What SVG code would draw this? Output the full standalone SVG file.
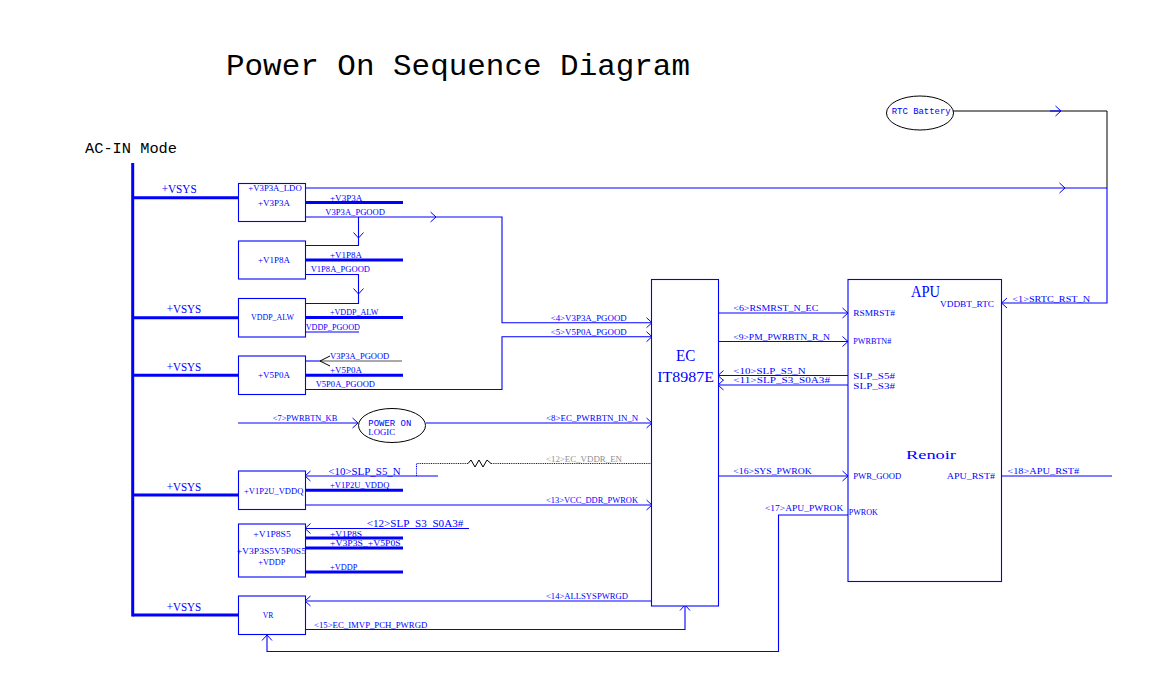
<svg xmlns="http://www.w3.org/2000/svg" width="1150" height="692" viewBox="0 0 1150 692">
<style>
text{font-family:"Liberation Serif","DejaVu Serif",serif;fill:#0000ff;font-size:8.500px}
.t{font-family:"Liberation Mono","DejaVu Sans Mono",monospace;fill:#000;font-size:29px}
.h{font-family:"Liberation Mono","DejaVu Sans Mono",monospace;fill:#000;font-size:14.500px}
.c{font-family:"Liberation Mono","DejaVu Sans Mono",monospace}
.v{font-size:12px}
.m{font-size:10px}
.b{font-size:16px}
.i{font-size:14.500px}
.g{fill:#909090}
.n{fill:#fff;stroke:#0000ff;stroke-width:1.100}
.e{fill:#fff;stroke:#000;stroke-width:1}
.l{fill:none;stroke:#0000ff;stroke-width:1.100}
.a{marker-end:url(#arrow)}
.k{fill:none;stroke:#000;stroke-width:1}
.w{fill:none;stroke:#0000ff;stroke-width:3}
.d{stroke-dasharray:1 .8}
</style>
<defs>
<marker id="arrow" markerUnits="userSpaceOnUse" markerWidth="14" markerHeight="14" refX="10" refY="7" orient="auto" viewBox="0 0 14 14"><path d="M4.500 2L10 7L4.500 12" fill="none" stroke="#0000ff" stroke-width="1"/></marker>
<marker id="arrowk" markerUnits="userSpaceOnUse" markerWidth="14" markerHeight="14" refX="11" refY="7" orient="auto" viewBox="0 0 14 14"><path d="M1 2L11 7L1 12" fill="none" stroke="#000" stroke-width="1"/></marker>
</defs>
<rect width="1150" height="692" fill="#fff"/>
<text class="t" x="226" y="74.500" textLength="464" lengthAdjust="spacingAndGlyphs">Power On Sequence Diagram</text>
<text class="h" x="85" y="152.700" textLength="92" lengthAdjust="spacingAndGlyphs">AC-IN Mode</text>

<g id="connectors">
<path class="w" d="M132.700 163V616.500"/>
<path class="w" d="M132.700 197.700H238M132.700 317.700H238M132.700 375.300H238M132.700 495H238M132.700 615H238"/>
<path class="w" d="M305 202.500H403M305 260H403M305 317.500H403M305 375.300H403M305 490.300H403M305 538H403M305 548H403M305 572H403"/>
<path class="l a" d="M306 188H1065"/>
<path class="l" d="M1065 188H1107"/>
<path class="l a" d="M306 217H436"/>
<path class="l a" d="M436 217H502V322.700H652"/>
<path class="l a" d="M358.500 217V238"/>
<path class="l" d="M358.500 238V245.500H306"/>
<path class="l a" d="M306 274.500H358.500V294"/>
<path class="l" d="M358.500 294V303.500H306"/>
<path class="l" d="M306 332H359"/>
<path class="l" d="M306 361H320"/>
<path d="M402 361H320" fill="none" stroke="#555" stroke-width="1" marker-end="url(#arrowk)"/>
<path class="l a" d="M306 389.500H502V336.700H652"/>
<path class="l a" d="M238 423H358"/>
<path class="l a" d="M426 423H652"/>
<path class="l a" d="M438 476H305"/>
<path class="l d" d="M416.500 476V463.500H468M491 463.500H652"/>
<path class="k" d="M468 463.500L471 460L475 467L479 460L483 467L487 460L491 463.500"/>
<path class="l a" d="M305 505H652"/>
<path class="l a" d="M469 528.500H305"/>
<path class="l a" d="M652 601H305"/>
<path class="l a" d="M305 629.500H685V605"/>
<path class="l a" d="M848 515H778.500V651.500H267V635"/>
<path class="l a" d="M718 313H848"/>
<path class="l a" d="M718 341.500H848"/>
<path class="l a" d="M848 375.500H718"/>
<path class="l a" d="M848 385H718"/>
<path class="l a" d="M718 476H848"/>
<path class="l" d="M1001.500 476H1112"/>
<path class="k" d="M953 111H1107V188"/>
<path class="l a" d="M1050 111H1061"/>
<path class="l a" d="M1107 188V303H1001.500"/>
<text x="330" y="200.700" textLength="32.300" lengthAdjust="spacingAndGlyphs">+V3P3A</text>
<text x="325.300" y="215" textLength="59.700" lengthAdjust="spacingAndGlyphs">V3P3A_PGOOD</text>
<text x="330" y="258" textLength="32" lengthAdjust="spacingAndGlyphs">+V1P8A</text>
<text x="310.700" y="272.300" textLength="59.300" lengthAdjust="spacingAndGlyphs">V1P8A_PGOOD</text>
<text x="330" y="315.300" textLength="48.300" lengthAdjust="spacingAndGlyphs">+VDDP_ALW</text>
<text x="305.700" y="330" textLength="54.300" lengthAdjust="spacingAndGlyphs">VDDP_PGOOD</text>
<text x="330" y="359" textLength="59.300" lengthAdjust="spacingAndGlyphs">V3P3A_PGOOD</text>
<text x="330" y="373.300" textLength="32" lengthAdjust="spacingAndGlyphs">+V5P0A</text>
<text x="315.700" y="387.300" textLength="59.300" lengthAdjust="spacingAndGlyphs">V5P0A_PGOOD</text>
<text x="272.700" y="421.300" textLength="64.600" lengthAdjust="spacingAndGlyphs">&lt;7&gt;PWRBTN_KB</text>
<text class="m" x="328.300" y="474.700" textLength="72.400" lengthAdjust="spacingAndGlyphs">&lt;10&gt;SLP_S5_N</text>
<text x="330" y="488.300" textLength="59.300" lengthAdjust="spacingAndGlyphs">+V1P2U_VDDQ</text>
<text class="m" x="366.700" y="527.300" textLength="96.600" lengthAdjust="spacingAndGlyphs">&lt;12&gt;SLP_S3_S0A3#</text>
<text x="330" y="536.700" textLength="32" lengthAdjust="spacingAndGlyphs">+V1P8S</text>
<text x="330" y="546" textLength="70.700" lengthAdjust="spacingAndGlyphs">+V3P3S_+V5P0S</text>
<text x="330" y="570" textLength="27.300" lengthAdjust="spacingAndGlyphs">+VDDP</text>
<text x="314" y="627.700" textLength="113.300" lengthAdjust="spacingAndGlyphs">&lt;15&gt;EC_IMVP_PCH_PWRGD</text>
<text x="550.700" y="320.700" textLength="76" lengthAdjust="spacingAndGlyphs">&lt;4&gt;V3P3A_PGOOD</text>
<text x="550.700" y="335.300" textLength="76" lengthAdjust="spacingAndGlyphs">&lt;5&gt;V5P0A_PGOOD</text>
<text x="546" y="421.300" textLength="92.300" lengthAdjust="spacingAndGlyphs">&lt;8&gt;EC_PWRBTN_IN_N</text>
<text class="g" x="546" y="462" textLength="76" lengthAdjust="spacingAndGlyphs">&lt;12&gt;EC_VDDR_EN</text>
<text x="546" y="503" textLength="92" lengthAdjust="spacingAndGlyphs">&lt;13&gt;VCC_DDR_PWROK</text>
<text x="546" y="599" textLength="82" lengthAdjust="spacingAndGlyphs">&lt;14&gt;ALLSYSPWRGD</text>
<text x="733.300" y="311.300" textLength="85" lengthAdjust="spacingAndGlyphs">&lt;6&gt;RSMRST_N_EC</text>
<text x="733.300" y="340" textLength="96.700" lengthAdjust="spacingAndGlyphs">&lt;9&gt;PM_PWRBTN_R_N</text>
<text x="733.300" y="373.700" textLength="72.400" lengthAdjust="spacingAndGlyphs">&lt;10&gt;SLP_S5_N</text>
<text x="733.300" y="383.300" textLength="96.700" lengthAdjust="spacingAndGlyphs">&lt;11&gt;SLP_S3_S0A3#</text>
<text x="733.300" y="474.300" textLength="78.400" lengthAdjust="spacingAndGlyphs">&lt;16&gt;SYS_PWROK</text>
<text x="765" y="510.700" textLength="78.300" lengthAdjust="spacingAndGlyphs">&lt;17&gt;APU_PWROK</text>
<text x="1012.300" y="301.700" textLength="77.700" lengthAdjust="spacingAndGlyphs">&lt;1&gt;SRTC_RST_N</text>
<text x="1007.300" y="474.300" textLength="72" lengthAdjust="spacingAndGlyphs">&lt;18&gt;APU_RST#</text>
<text class="v" x="161.700" y="192.700" textLength="35" lengthAdjust="spacingAndGlyphs">+VSYS</text>
<text class="v" x="166.700" y="312.700" textLength="34.600" lengthAdjust="spacingAndGlyphs">+VSYS</text>
<text class="v" x="166.700" y="370.700" textLength="34.600" lengthAdjust="spacingAndGlyphs">+VSYS</text>
<text class="v" x="166.700" y="490.700" textLength="34.600" lengthAdjust="spacingAndGlyphs">+VSYS</text>
<text class="v" x="166.700" y="610.700" textLength="34.600" lengthAdjust="spacingAndGlyphs">+VSYS</text>
</g>

<g id="node-v3p3a"><rect class="n" x="238.500" y="183.500" width="67" height="38"/>
<text x="248.300" y="190.700" textLength="53.400" lengthAdjust="spacingAndGlyphs">+V3P3A_LDO</text>
<text x="258" y="205.700" textLength="32" lengthAdjust="spacingAndGlyphs">+V3P3A</text></g>
<g id="node-v1p8a"><rect class="n" x="238.500" y="241" width="67" height="38"/>
<text x="258" y="262.700" textLength="32" lengthAdjust="spacingAndGlyphs">+V1P8A</text></g>
<g id="node-vddp-alw"><rect class="n" x="238.500" y="298.500" width="67" height="38.500"/>
<text x="251" y="320.300" textLength="43" lengthAdjust="spacingAndGlyphs">VDDP_ALW</text></g>
<g id="node-v5p0a"><rect class="n" x="238.500" y="356" width="67" height="38.500"/>
<text x="258" y="378.300" textLength="32" lengthAdjust="spacingAndGlyphs">+V5P0A</text></g>
<g id="node-power-on-logic"><ellipse class="e" cx="392" cy="425.500" rx="33.500" ry="17"/>
<text class="c" x="368.300" y="426" textLength="43" lengthAdjust="spacingAndGlyphs">POWER ON</text>
<text x="368.300" y="435" textLength="26.700" lengthAdjust="spacingAndGlyphs">LOGIC</text></g>
<g id="node-v1p2u-vddq"><rect class="n" x="238.500" y="471" width="67" height="38.500"/>
<text x="244" y="493.700" textLength="59.300" lengthAdjust="spacingAndGlyphs">+V1P2U_VDDQ</text></g>
<g id="node-s5"><rect class="n" x="238.500" y="524" width="67" height="53"/>
<text x="253.300" y="536.700" textLength="37.400" lengthAdjust="spacingAndGlyphs">+V1P8S5</text>
<text x="236.700" y="553.700" textLength="69.300" lengthAdjust="spacingAndGlyphs">+V3P3S5V5P0S5</text>
<text x="258.300" y="565.300" textLength="27" lengthAdjust="spacingAndGlyphs">+VDDP</text></g>
<g id="node-vr"><rect class="n" x="238.500" y="596" width="67" height="38.500"/>
<text x="262.700" y="618.300" textLength="10.600" lengthAdjust="spacingAndGlyphs">VR</text></g>
<g id="node-ec"><rect class="n" x="651.500" y="279.500" width="67" height="326.500"/>
<text class="b" x="676" y="360.700" textLength="19.300" lengthAdjust="spacingAndGlyphs">EC</text>
<text class="i" x="657.300" y="382.300" textLength="56.700" lengthAdjust="spacingAndGlyphs">IT8987E</text></g>
<g id="node-apu"><rect class="n" x="848" y="279.500" width="153.500" height="302"/>
<text class="b" x="911" y="297.300" textLength="29" lengthAdjust="spacingAndGlyphs">APU</text>
<text x="940" y="306.700" textLength="54" lengthAdjust="spacingAndGlyphs">VDDBT_RTC</text>
<text x="853.300" y="316" textLength="41.700" lengthAdjust="spacingAndGlyphs">RSMRST#</text>
<text x="853.300" y="344" textLength="38" lengthAdjust="spacingAndGlyphs">PWRBTN#</text>
<text x="853.300" y="379" textLength="41.700" lengthAdjust="spacingAndGlyphs">SLP_S5#</text>
<text x="853.300" y="388.500" textLength="41.700" lengthAdjust="spacingAndGlyphs">SLP_S3#</text>
<text class="v" style="font-size:13px" x="906" y="458.700" textLength="50" lengthAdjust="spacingAndGlyphs">Renoir</text>
<text x="853.300" y="479.300" textLength="48" lengthAdjust="spacingAndGlyphs">PWR_GOOD</text>
<text x="946.700" y="479.300" textLength="48.300" lengthAdjust="spacingAndGlyphs">APU_RST#</text>
<text x="848.700" y="515.300" textLength="29.300" lengthAdjust="spacingAndGlyphs">PWROK</text></g>
<g id="node-rtc-battery"><ellipse class="e" cx="920" cy="113" rx="33.500" ry="17"/>
<text class="c" x="891.700" y="114.300" textLength="59" lengthAdjust="spacingAndGlyphs">RTC Battery</text></g>
</svg>
